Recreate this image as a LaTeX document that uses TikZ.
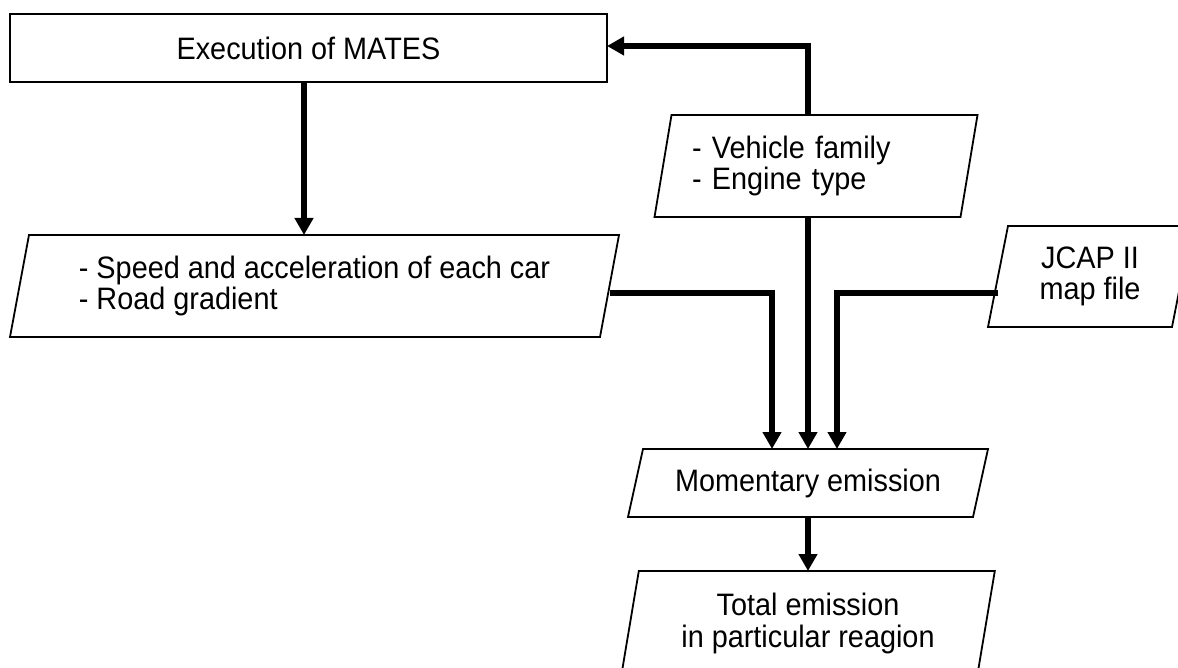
\documentclass[tikz,border=0pt]{standalone}
\usepackage{fontspec}
\setmainfont{Liberation Sans}[FakeStretch=0.93]
\usetikzlibrary{arrows.meta}
\tikzset{
  box/.style={draw=none, inner sep=0pt, outer sep=0pt, align=center,
    font=\fontsize{31}{31.5}\selectfont},
  outline/.style={draw, line width=1.8pt, line join=miter},
  conn/.style={line width=5.5pt, line join=miter,
    -{Triangle[width=18pt,length=17pt]}},
}
% parallelogram drawn around a rectangular node, top edge shifted right by #2
\newcommand\drawpara[2]{%
  \draw[outline] ([xshift=#2]#1.north west) -- ([xshift=#2]#1.north east)
    -- ([xshift=-#2]#1.south east) -- ([xshift=-#2]#1.south west) -- cycle;}

\begin{document}
\begin{tikzpicture}[x=1pt,y=-1pt]
\useasboundingbox (0,0) rectangle (1178,668);
\clip (0,0) rectangle (1178,668);
\fill[white] (0,0) rectangle (1178,668);

% process and data boxes
\node[box, outline, minimum width=597pt, minimum height=68pt] (exec) at (308.5,48)
  {Execution of MATES};
\node[box, minimum width=590pt, minimum height=102pt, align=left] (spd) at (314.5,286)
  {- Speed and acceleration of each car\\- Road gradient};
\node[box, minimum width=306pt, minimum height=102pt, text width=248pt,
  align=left, inner xsep=29pt] (veh) at (816,166)
  {- Vehicle family\\- Engine type};
\node[box, minimum width=184pt, minimum height=101pt] (jcap) at (1090,276.5)
  {JCAP II\\map file};
\node[box, minimum width=345pt, minimum height=68pt] (mom) at (808,483)
  {Momentary emission};
\node[box, minimum width=356pt, minimum height=105pt] (tot) at (808,623.5)
  {Total emission\\in particular reagion};

\drawpara{spd}{9.5pt}
\drawpara{veh}{8.5pt}
\drawpara{jcap}{10pt}
\drawpara{mom}{7.5pt}
\drawpara{tot}{8.8pt}

% flow connectors
\draw[conn] ([xshift=-4.5pt]exec.south) -- ([xshift=-4.5pt]exec.south |- spd.north);
\draw[conn] ([xshift=-8pt]veh.north) |- ([yshift=2pt]exec.east);
\draw[conn] ([yshift=-7pt]spd.east) -| ([xshift=-36pt]mom.north);
\draw[conn] ([xshift=-8pt]veh.south) -- (mom.north);
\draw[conn] ([yshift=-16.5pt]jcap.west) -| ([xshift=29pt]mom.north);
\draw[conn] (mom.south) -- (tot.north);
\end{tikzpicture}
\end{document}
